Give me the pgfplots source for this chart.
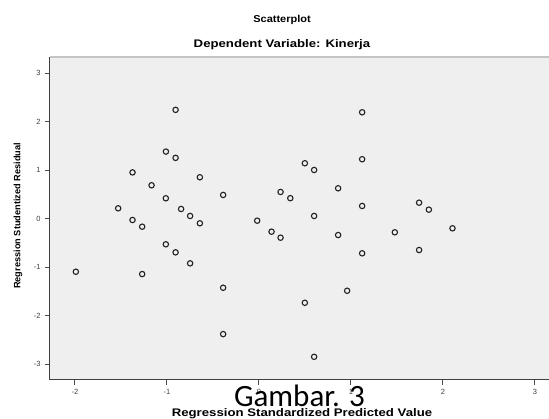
\documentclass[border=0pt]{standalone}
\usepackage{fontspec}
\setmainfont{Liberation Sans}
\newfontfamily\gam{Carlito}
\usepackage{pgfplots}
\pgfplotsset{compat=1.18}
\definecolor{bgc}{HTML}{EFEFEF}
\definecolor{topc}{HTML}{C4C4C4}
\definecolor{mk}{HTML}{222222}
\begin{document}
\begin{tikzpicture}
\path[use as bounding box] (-50pt,-39pt) rectangle (499pt,380pt);
\begin{axis}[
  at={(0pt,0pt)}, anchor=south west,
  scale only axis, width=499pt, height=323pt,
  xmin=-2.27, xmax=3.154, ymin=-3.33, ymax=3.33,
  axis background/.style={fill=bgc},
  axis x line*=bottom, axis y line*=left,
  axis line style={line width=1pt, color=black!75},
  xtick={-2,-1,0,1,2,3}, ytick={-3,-2,-1,0,1,2,3},
  tick align=outside, major tick length=5pt,
  tick style={black!70, line width=0.8pt},
  tick label style={font=\fontsize{7.5}{8}\selectfont, text=black!75},
  /pgf/number format/assume math mode=true,
  xticklabel style={yshift=-1pt},
  yticklabel style={xshift=-1pt},
  xlabel={\scalebox{1.2}[1]{\textbf{Regression Standardized Predicted Value}}},
  xlabel style={font=\fontsize{11}{12}\selectfont, at={(0.505,-0.1115)}, anchor=base},
  ylabel={\textbf{Regression Studentized Residual}},
  ylabel style={font=\fontsize{9.2}{10}\selectfont, at={(-0.0641,0.508)}, anchor=center, rotate=0},
  clip=false,
]
\addplot[only marks, mark=o, mark size=2.7pt, mark options={mk, line width=1.1pt}] coordinates {
(-0.905,2.24) (-1.01,1.38) (-0.905,1.25) (-1.373,0.95) (-0.641,0.85)
(-1.166,0.685) (-1.011,0.417) (-0.388,0.485) (0.236,0.547) (0.342,0.419)
(0.5,1.139) (-1.529,0.21) (-0.845,0.196) (-0.747,0.052) (-0.641,-0.099)
(-1.373,-0.031) (-1.268,-0.169) (-0.018,-0.045) (0.138,-0.272) (0.236,-0.396)
(-1.011,-0.532) (-0.905,-0.698) (-0.747,-0.925) (-1.989,-1.098) (-1.268,-1.146)
(-0.388,-1.428) (0.5,-1.738) (-0.388,-2.384) (1.123,2.19) (0.601,1.0)
(1.123,1.222) (0.862,0.623) (1.123,0.258) (1.742,0.326) (1.848,0.182)
(0.601,0.052) (0.862,-0.341) (1.478,-0.285) (2.105,-0.202) (1.123,-0.718)
(1.742,-0.65) (0.96,-1.49) (0.601,-2.852)
};
\draw[topc, line width=1.5pt] (rel axis cs:0,1) -- (rel axis cs:1,1);
\node[font=\fontsize{10}{11}\selectfont, anchor=center] at (rel axis cs:0.465,1.115) {\scalebox{1.1}[1]{\textbf{Scatterplot}}};
\node[font=\fontsize{11}{12}\selectfont, anchor=center] at (rel axis cs:0.465,1.037) {\scalebox{1.2}[1]{\textbf{Dependent Variable: Kinerja}}};
\node[font=\gam\fontsize{31}{32}\selectfont, anchor=base] at (rel axis cs:0.5,-0.0836) {Gambar. 3};
\end{axis}
\end{tikzpicture}
\end{document}
